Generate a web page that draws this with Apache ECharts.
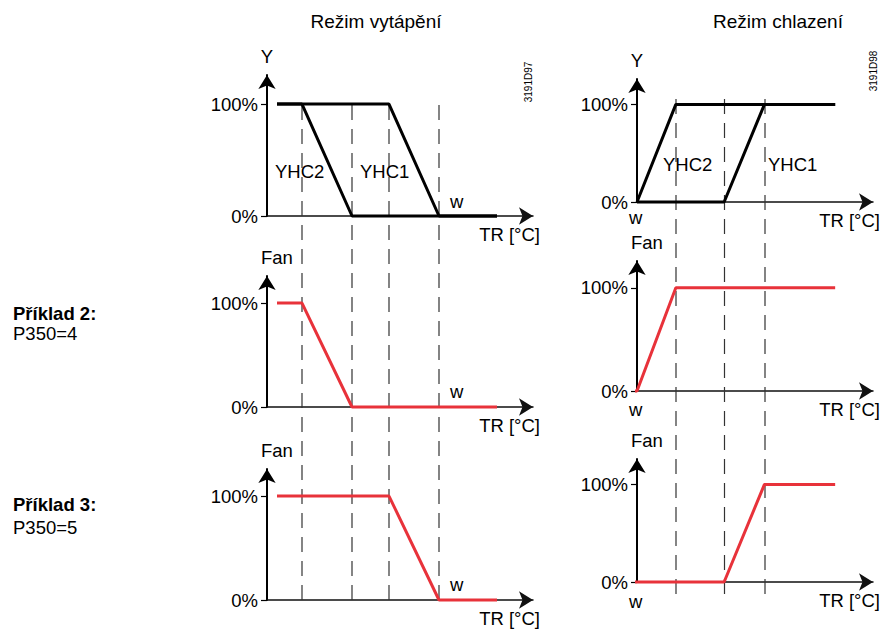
<!DOCTYPE html>
<html>
<head>
<meta charset="utf-8">
<title>Režim vytápění / Režim chlazení</title>
<script src="https://cdn.jsdelivr.net/npm/echarts@6/dist/echarts.min.js"></script>
<style>
html, body { margin: 0; padding: 0; background: #fff; }
#chart { width: 881px; height: 630px; }
</style>
</head>
<body>
<div id="chart"></div>
<script>
// Režim vytápění (x = relativní poloha od osy Y, y = %)
var heatYhc2 = [[1, 100], [3.5, 100], [8.5, 0], [23, 0]];
var heatYhc1 = [[1, 100], [12.2, 100], [17.2, 0], [23, 0]];
var heatFan2 = [[1, 100], [3.5, 100], [8.5, 0], [23, 0]];
var heatFan3 = [[1, 100], [12.2, 100], [17.2, 0], [23, 0]];
var heatMarks = [3.5, 8.5, 12.2, 17.2];

// Režim chlazení
var coolYhc2 = [[0, 0], [3.9, 100], [19.9, 100]];
var coolYhc1 = [[0, 0], [8.75, 0], [12.8, 100], [19.9, 100]];
var coolFan2 = [[-0.6, 0], [0, 0], [3.9, 100], [19.9, 100]];
var coolFan3 = [[-0.6, 0], [8.75, 0], [12.8, 100], [19.9, 100]];
var coolMarks = [3.9, 8.75, 12.8];

var yTicks = [0, 100];

var FONT = "'Liberation Sans', Arial, sans-serif";
var RED = '#e8323a';

var myChart = echarts.init(document.getElementById('chart'), null, { renderer: 'svg' });

// grids: 0-2 vytápění, 3-5 chlazení, 6-7 čárkované svislice
var grids = [
	{ left: 267, top: 75, width: 266, height: 141 },
	{ left: 267, top: 276, width: 266, height: 131 },
	{ left: 267, top: 469, width: 266, height: 131 },
	{ left: 637, top: 79, width: 237, height: 123 },
	{ left: 637, top: 261, width: 237, height: 130 },
	{ left: 637, top: 459, width: 237, height: 123 },
	{ left: 267, top: 98, width: 266, height: 502 },
	{ left: 637, top: 97, width: 237, height: 497 }
];
var xMax = [26.6, 26.6, 26.6, 23.7, 23.7, 23.7, 26.6, 23.7];
var yNames = ['Y', 'Fan', 'Fan', 'Y', 'Fan', 'Fan'];

var xAxes = [], yAxes = [];
for (var i = 0; i < 8; i++) {
	var plot = i < 6;
	xAxes.push({
		type: 'value', gridIndex: i, min: 0, max: xMax[i],
		axisLine: {
			show: plot, symbol: ['none', 'arrow'], symbolSize: [13, 14],
			lineStyle: { color: '#111', width: 1.5 }
		},
		axisTick: { show: false },
		axisLabel: { show: false },
		splitLine: { show: false },
		name: plot ? 'TR [°C]' : '',
		nameLocation: 'end',
		nameGap: 7,
		nameTextStyle: {
			fontFamily: FONT, fontSize: 18.5, color: '#000',
			align: 'right', verticalAlign: 'top', padding: [9, 0, 0, 0]
		}
	});
	yAxes.push({
		type: 'value', gridIndex: i, min: 0, max: plot ? 126 : 1,
		axisLine: {
			show: plot, symbol: ['none', 'arrow'], symbolSize: [13, 14],
			lineStyle: { color: '#000', width: 2 }
		},
		axisTick: { show: plot, customValues: yTicks, length: 6, lineStyle: { color: '#000', width: 1.2 } },
		axisLabel: {
			show: plot, customValues: yTicks, formatter: '{value}%',
			fontFamily: FONT, fontSize: 18.5, color: '#000', margin: 9
		},
		splitLine: { show: false },
		name: plot ? yNames[i] : '',
		nameLocation: 'end',
		nameGap: 9,
		nameTextStyle: {
			fontFamily: FONT, fontSize: 18.5, color: '#000',
			align: yNames[i] == 'Fan' ? 'left' : 'center',
			padding: yNames[i] == 'Fan' ? [0, 0, 0, -6] : 0
		}
	});
}

function curve(idx, data, color) {
	return {
		type: 'line', xAxisIndex: idx, yAxisIndex: idx, data: data,
		symbol: 'none', clip: false, z: 5, silent: true,
		lineStyle: { color: color, width: 3 }
	};
}

function dash(idx, x) {
	return {
		type: 'line', xAxisIndex: idx, yAxisIndex: idx, data: [[x, 0], [x, 1]],
		symbol: 'none', z: 1, silent: true,
		lineStyle: { color: '#333', width: 1.2, type: [15, 9] }
	};
}

var series = [
	curve(0, heatYhc2, '#000'),
	curve(0, heatYhc1, '#000'),
	curve(1, heatFan2, RED),
	curve(2, heatFan3, RED),
	curve(3, coolYhc2, '#000'),
	curve(3, coolYhc1, '#000'),
	curve(4, coolFan2, RED),
	curve(5, coolFan3, RED)
];
heatMarks.forEach(function(x) { series.push(dash(6, x)); });
coolMarks.forEach(function(x) { series.push(dash(7, x)); });

// popisky
function txt(s, x, y, opt) {
	opt = opt || {};
	return {
		type: 'text', x: x, y: y, z: 10, silent: true,
		rotation: opt.rot || 0,
		style: {
			text: s, fill: '#000',
			font: (opt.bold ? 'bold ' : '') + (opt.size || 18.5) + 'px ' + FONT,
			align: opt.align || 'left', verticalAlign: 'middle'
		}
	};
}

var texts = [
	txt('Režim vytápění', 376, 21, { align: 'center', size: 19 }),
	txt('Režim chlazení', 778, 21, { align: 'center', size: 19 }),
	txt('Příklad 2:', 13, 313, { bold: true }),
	txt('P350=4', 13, 333),
	txt('Příklad 3:', 13, 504, { bold: true }),
	txt('P350=5', 13, 527),
	txt('YHC2', 275, 171),
	txt('YHC1', 360, 171),
	txt('YHC2', 663, 164),
	txt('YHC1', 768, 164),
	txt('w', 450, 201),
	txt('w', 450, 391),
	txt('w', 450, 584),
	txt('w', 629, 217),
	txt('w', 629, 409),
	txt('w', 629, 601),
	txt('3191D97', 528, 82, { size: 10, align: 'center', rot: Math.PI / 2 }),
	txt('3191D98', 873, 71, { size: 10, align: 'center', rot: Math.PI / 2 })
];

var option = {
	animation: false,
	backgroundColor: '#fff',
	grid: grids,
	xAxis: xAxes,
	yAxis: yAxes,
	series: series,
	graphic: texts
};

myChart.setOption(option);
</script>
</body>
</html>
